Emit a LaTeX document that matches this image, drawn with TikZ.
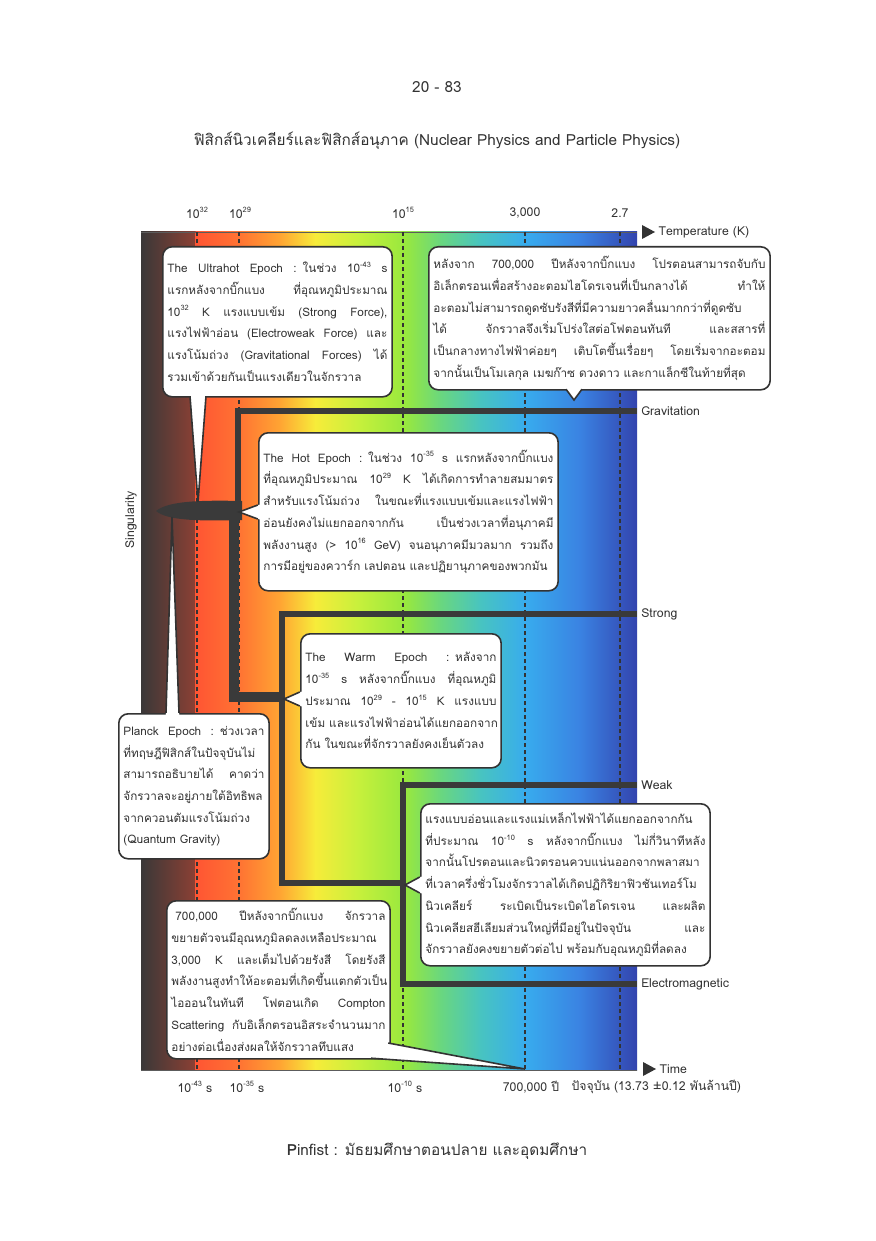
\documentclass[tikz,border=0pt]{standalone}
\usepackage{fontspec}
\setmainfont[Script=Thai]{Loma}
\usetikzlibrary{calc}
\definecolor{ink}{HTML}{333333}
\definecolor{fl}{HTML}{3A3A3A}
\newcommand\bubfont{\fontsize{8.8pt}{16.3pt}\selectfont}
\newcommand\jl[1]{\makebox[\hsize][s]{\spaceskip=\fontdimen2\font plus 4em\relax #1}\\}
\newcommand\lastl[1]{\makebox[\hsize][l]{#1}}
\newcommand\sps[1]{\raisebox{0.85ex}{\fontsize{5.6pt}{6pt}\selectfont #1}}
\begin{document}
\begin{tikzpicture}[x=0.75pt,y=-0.75pt,
  bubble/.style={draw=ink, line width=1.2pt, fill=white, rounded corners=7pt, inner xsep=3.5pt, inner ysep=0pt, anchor=north west, align=left, font=\bubfont, text=ink},
  ptr/.style={draw=ink, line width=1.2pt, line join=miter},
  force/.style={draw=fl, line width=3.4pt},
  vline/.style={draw=ink, line width=1.2pt, dash pattern=on 3pt off 2.25pt},
  lab/.style={font=\fontsize{9.2pt}{11pt}\selectfont, text=ink, inner sep=1pt},
  flab/.style={lab, anchor=west, inner xsep=3pt},
  head/.style={lab, font=\fontsize{11.5pt}{13pt}\selectfont}]
\fill[white] (0,0) rectangle (875,1241);
\useasboundingbox (0,0) rectangle (875,1241);

% headings
\node[head] (page) at (437,87) {20 - 83};
\node[head] (title) at (437,141) {ฟิสิกส์นิวเคลียร์และฟิสิกส์อนุภาค (Nuclear Physics and Particle Physics)};
\node[head] (foot) at (437,1151) {{\bfseries P}infist : มัธยมศึกษาตอนปลาย และอุดมศึกษา};

% gradient band
\shade[left color={rgb,255:red,58;green,56;blue,56}, right color={rgb,255:red,140;green,64;blue,52}] (141,232) rectangle (196,1070);
\shade[left color={rgb,255:red,255;green,85;blue,51}, right color={rgb,255:red,255;green,116;blue,51}] (195.5,232) rectangle (240.5,1070);
\shade[left color={rgb,255:red,255;green,116;blue,51}, right color={rgb,255:red,255;green,165;blue,51}] (240,232) rectangle (280.5,1070);
\shade[left color={rgb,255:red,255;green,165;blue,51}, right color={rgb,255:red,247;green,236;blue,58}] (280,232) rectangle (315.5,1070);
\shade[left color={rgb,255:red,247;green,236;blue,58}, right color={rgb,255:red,197;green,240;blue,60}] (315,232) rectangle (360.5,1070);
\shade[left color={rgb,255:red,197;green,240;blue,60}, right color={rgb,255:red,152;green,232;blue,62}] (360,232) rectangle (405.5,1070);
\shade[left color={rgb,255:red,152;green,232;blue,62}, right color={rgb,255:red,106;green,215;blue,126}] (405,232) rectangle (440.5,1070);
\shade[left color={rgb,255:red,106;green,215;blue,126}, right color={rgb,255:red,72;green,196;blue,192}] (440,232) rectangle (480.5,1070);
\shade[left color={rgb,255:red,72;green,196;blue,192}, right color={rgb,255:red,56;green,172;blue,238}] (480,232) rectangle (525.5,1070);
\shade[left color={rgb,255:red,56;green,172;blue,238}, right color={rgb,255:red,58;green,130;blue,226}] (525,232) rectangle (580.5,1070);
\shade[left color={rgb,255:red,58;green,130;blue,226}, right color={rgb,255:red,51;green,68;blue,174}] (580,232) rectangle (637,1070);
\draw[ink!80, line width=0.6pt] (141,232) -- (637,232);
\draw[ink!80, line width=0.6pt] (141,1070) -- (637,1070);

% top labels
\node[lab] (t32) at (197,213) {10\sps{32}};
\node[lab] (t29) at (240,213) {10\sps{29}};
\node[lab] (t15) at (403,213) {10\sps{15}};
\node[lab] (t3k) at (525,213) {3,000};
\node[lab] (t27) at (620,213) {2.7};
% bottom labels
\node[lab] (b43) at (195,1087) {10\sps{-43} s};
\node[lab] (b35) at (247,1087) {10\sps{-35} s};
\node[lab] (b10) at (405,1087) {10\sps{-10} s};
\node[lab] (b7) at (531,1087) {700,000 ปี};
\node[lab, anchor=west] (bnow) at (570,1087) {ปัจจุบัน (13.73 ±0.12 พันล้านปี)};

% dashed epoch lines
\coordinate (d1t) at (197,232); \coordinate (d1b) at (197,1070);
\coordinate (d2t) at (239,232); \coordinate (d2b) at (239,1070);
\coordinate (d3t) at (403,232); \coordinate (d3b) at (403,1070);
\coordinate (d4t) at (525,232); \coordinate (d4b) at (525,1070);
\coordinate (d5t) at (620,232); \coordinate (d5b) at (620,1070);
\foreach \d in {d1,d2,d3,d4,d5} \draw[vline] (\d t) -- (\d b);

% axis arrows
\fill[ink] (642,225) -- (655,232) -- (642,239) -- cycle;
\node[lab, anchor=west] (temp) at (657,232) {Temperature (K)};
\fill[ink] (643,1062) -- (656,1069) -- (643,1076) -- cycle;
\node[lab, anchor=west] (time) at (658,1069) {Time};
\node[lab, rotate=90] (sing) at (131,520) {Singularity};

% force labels
\node[flab] (grav) at (637,411) {Gravitation};
\node[flab] (strong) at (637,614) {Strong};
\node[flab] (weak) at (637,785) {Weak};
\node[flab] (em) at (637,984) {Electromagnetic};

% force lines
\coordinate (big) at (238,510);
\coordinate (j1) at (234,697);
\coordinate (j2) at (282,697);
\coordinate (j3) at (282,883);
\coordinate (j4) at (403,883);
\draw[force, line width=3.8pt] (big) |- (grav.west);
\draw[fl, line width=7.5pt] (234,505) -- (j1) -- (j2);
\draw[force, line width=5pt] (j2) |- (strong.west);
\draw[force, line width=5pt] (j2) -- (j3) -- (j4);
\draw[force, line width=3.8pt] (j4) |- (weak.west);
\draw[force, line width=3.8pt] (j4) |- (em.west);
\draw[fl, line width=3.8pt] (282,613) -- (j2);
% singularity blob
\fill[fl] (156,511) .. controls (168,501) and (200,500) .. (242,501) -- (242,520) .. controls (200,521) and (168,521) .. (156,511) -- cycle;

% bubbles
\node[bubble, text width=165pt, minimum height=112.5pt] (ultra) at (162,246) {%
\jl{The Ultrahot Epoch : ในช่วง 10\sps{-43} s}%
\jl{แรกหลังจากบิ๊กแบง ที่อุณหภูมิประมาณ}%
\jl{10\sps{32} K แรงแบบเข้ม (Strong Force),}%
\jl{แรงไฟฟ้าอ่อน (Electroweak Force) และ}%
\jl{แรงโน้มถ่วง (Gravitational Forces) ได้}%
\lastl{รวมเข้าด้วยกันเป็นแรงเดียวในจักรวาล}};
\fill[white] (189,390) -- (190,396) -- (198,502) -- (206,396) -- (207,390) -- cycle;
\draw[ptr] (190,396.2) -- (198,502) -- (206,396.2);

\node[bubble, text width=249pt, minimum height=107.25pt] (tr) at (428,246) {%
\jl{หลังจาก 700,000 ปีหลังจากบิ๊กแบง โปรตอนสามารถจับกับ}%
\jl{อิเล็กตรอนเพื่อสร้างอะตอมไฮโดรเจนที่เป็นกลางได้ ทำให้}%
\jl{อะตอมไม่สามารถดูดซับรังสีที่มีความยาวคลื่นมากกว่าที่ดูดซับ}%
\jl{ได้ จักรวาลจึงเริ่มโปร่งใสต่อโฟตอนทันที และสสารที่}%
\jl{เป็นกลางทางไฟฟ้าค่อยๆ เติบโตขึ้นเรื่อยๆ โดยเริ่มจากอะตอม}%
\lastl{จากนั้นเป็นโมเลกุล เมฆก๊าซ ดวงดาว และกาแล็กซีในท้ายที่สุด}};
\fill[white] (565,383) -- (566,389) -- (574,400) -- (582,389) -- (583,383) -- cycle;
\draw[ptr] (566,389.2) -- (574,400) -- (582,389.2);

\node[bubble, text width=217.5pt, minimum height=118.5pt] (hot) at (258,432) {%
\jl{The Hot Epoch : ในช่วง 10\sps{-35} s แรกหลังจากบิ๊กแบง}%
\jl{ที่อุณหภูมิประมาณ 10\sps{29} K ได้เกิดการทำลายสมมาตร}%
\jl{สำหรับแรงโน้มถ่วง ในขณะที่แรงแบบเข้มและแรงไฟฟ้า}%
\jl{อ่อนยังคงไม่แยกออกจากกัน เป็นช่วงเวลาที่อนุภาคมี}%
\jl{พลังงานสูง (> 10\sps{16} GeV) จนอนุภาคมีมวลมาก รวมถึง}%
\lastl{การมีอยู่ของควาร์ก เลปตอน และปฏิยานุภาคของพวกมัน}};
\fill[white] (263,504) -- (258,505) -- (239,512) -- (258,519) -- (263,520) -- cycle;
\draw[ptr] (257.8,505) -- (239,512) -- (257.8,519);

\node[bubble, text width=143.25pt, minimum height=100.5pt] (warm) at (300,633) {%
\jl{The Warm Epoch : หลังจาก}%
\jl{10\sps{-35} s หลังจากบิ๊กแบง ที่อุณหภูมิ}%
\jl{ประมาณ 10\sps{29} - 10\sps{15} K แรงแบบ}%
\jl{เข้ม และแรงไฟฟ้าอ่อนได้แยกออกจาก}%
\lastl{กัน ในขณะที่จักรวาลยังคงเย็นตัวลง}};
\fill[white] (305,691) -- (300,692) -- (284,699) -- (300,706) -- (305,707) -- cycle;
\draw[ptr] (299.8,692) -- (284,699) -- (299.8,706);

\node[bubble, text width=105.75pt, minimum height=108.75pt] (planck) at (118,713) {%
\jl{Planck Epoch : ช่วงเวลา}%
\jl{ที่ทฤษฎีฟิสิกส์ในปัจจุบันไม่}%
\jl{สามารถอธิบายได้ คาดว่า}%
\jl{จักรวาลจะอยู่ภายใต้อิทธิพล}%
\jl{จากควอนตัมแรงโน้มถ่วง}%
\lastl{(Quantum Gravity)}};
\fill[white] (165,719) -- (166,713) -- (172,517) -- (179,713) -- (180,719) -- cycle;
\draw[ptr] (166,712.8) -- (172,517) -- (179,712.8);

\node[bubble, text width=210pt, minimum height=121.5pt] (br) at (420,803) {%
\jl{แรงแบบอ่อนและแรงแม่เหล็กไฟฟ้าได้แยกออกจากกัน}%
\jl{ที่ประมาณ 10\sps{-10} s หลังจากบิ๊กแบง ไม่กี่วินาทีหลัง}%
\jl{จากนั้นโปรตอนและนิวตรอนควบแน่นออกจากพลาสมา}%
\jl{ที่เวลาครึ่งชั่วโมงจักรวาลได้เกิดปฏิกิริยาฟิวชันเทอร์โม}%
\jl{นิวเคลียร์ ระเบิดเป็นระเบิดไฮโดรเจน และผลิต}%
\jl{นิวเคลียสฮีเลียมส่วนใหญ่ที่มีอยู่ในปัจจุบัน และ}%
\lastl{จักรวาลยังคงขยายตัวต่อไป พร้อมกับอุณหภูมิที่ลดลง}};
\fill[white] (425,876) -- (420,877) -- (405,885) -- (420,893) -- (425,894) -- cycle;
\draw[ptr] (419.8,877) -- (405,885) -- (419.8,893);

\node[bubble, text width=160.5pt, minimum height=118.5pt] (bl) at (166,900) {%
\jl{\hspace{3pt}700,000 ปีหลังจากบิ๊กแบง จักรวาล}%
\jl{ขยายตัวจนมีอุณหภูมิลดลงเหลือประมาณ}%
\jl{3,000 K และเต็มไปด้วยรังสี โดยรังสี}%
\jl{พลังงานสูงทำให้อะตอมที่เกิดขึ้นแตกตัวเป็น}%
\jl{ไอออนในทันที โฟตอนเกิด Compton}%
\jl{Scattering กับอิเล็กตรอนอิสระจำนวนมาก}%
\lastl{อย่างต่อเนื่องส่งผลให้จักรวาลทึบแสง}};
\fill[white] (370,1053) -- (371,1058.2) -- (525,1069) -- (388.2,1043) -- (383,1042) -- cycle;
\draw[ptr] (371,1058.2) -- (525,1069) -- (388.2,1043);
\end{tikzpicture}
\end{document}
